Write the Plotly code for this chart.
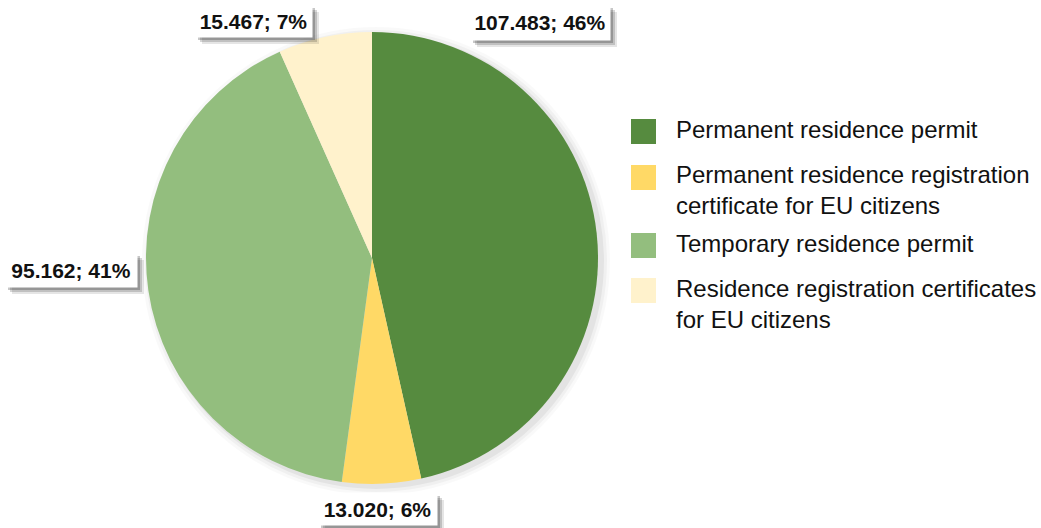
import plotly.graph_objects as go

# Residence documents by type
categories = [
    "Permanent residence permit",
    "Permanent residence registration<br>certificate for EU citizens",
    "Temporary residence permit",
    "Residence registration certificates<br>for EU citizens",
]
values = [107483, 13020, 95162, 15467]
percent_labels = [46, 6, 41, 7]
colors = ["#568B3F", "#FFD966", "#93BE7E", "#FFF2CC"]

W, H = 1041, 528


def px(x):
    return x / W


def py(y):
    return 1 - y / H


def fmt_thousands(v):
    return f"{v:,}".replace(",", ".")


fig = go.Figure()

# soft shadow behind the pie, shifted slightly to the lower right
cx, cy, r = 372, 258, 226
shapes = []
for grow, op in [(8, 0.025), (5, 0.035), (2, 0.05)]:
    shapes.append(dict(
        type="circle", xref="paper", yref="paper", layer="below",
        x0=px(cx - r - grow + 4), x1=px(cx + r + grow + 4),
        y0=py(cy + r + grow + 3), y1=py(cy - r - grow + 3),
        fillcolor=f"rgba(0,0,0,{op})", line=dict(width=0),
    ))

fig.add_trace(go.Pie(
    labels=categories,
    values=values,
    sort=False,
    direction="clockwise",
    rotation=0,
    marker=dict(colors=colors, line=dict(width=0)),
    textinfo="none",
    hoverinfo="label+value+percent",
    showlegend=False,
    domain=dict(x=[px(cx - r), px(cx + r)], y=[py(cy + r), py(cy - r)]),
))

# data label boxes: centre position and box size in pixels
label_boxes = [
    (540, 22.5, 140, 35),
    (377.5, 509, 119, 32),
    (71, 270, 132, 34),
    (253.5, 21, 117, 32),
]

annotations = []
for v, p, (bx, by, bw, bh) in zip(values, percent_labels, label_boxes):
    # drop shadow
    for off, op in [(7, 0.10), (5, 0.16), (3, 0.22)]:
        shapes.append(dict(
            type="rect", xref="paper", yref="paper", layer="above",
            x0=px(bx - bw / 2 + off), x1=px(bx + bw / 2 + off),
            y0=py(by + bh / 2 + off), y1=py(by - bh / 2 + off),
            fillcolor=f"rgba(0,0,0,{op})", line=dict(width=0),
        ))
    annotations.append(dict(
        x=px(bx), y=py(by), xref="paper", yref="paper",
        xanchor="center", yanchor="middle",
        text=f"<b>{fmt_thousands(v)}; {p}%</b>",
        showarrow=False, bgcolor="white",
        width=bw, height=bh, borderpad=0,
        font=dict(family="Liberation Sans", size=21, color="#111111"),
    ))

# legend: colour squares and text
legend_rows = [131.5, 177.5, 245.5, 290.5]
for cat, col, yc in zip(categories, colors, legend_rows):
    shapes.append(dict(
        type="rect", xref="paper", yref="paper", layer="above",
        x0=px(631), x1=px(656), y0=py(yc + 12.5), y1=py(yc - 12.5),
        fillcolor=col, line=dict(width=0),
    ))
    annotations.append(dict(
        x=px(674), y=py(yc - 18), xref="paper", yref="paper",
        xanchor="left", yanchor="top", align="left",
        text=cat, showarrow=False,
        font=dict(family="Liberation Sans", size=24, color="#111111"),
    ))

fig.update_layout(
    width=W, height=H,
    margin=dict(l=0, r=0, t=0, b=0),
    paper_bgcolor="white",
    plot_bgcolor="white",
    shapes=shapes,
    annotations=annotations,
)

fig.write_html("out.html")
